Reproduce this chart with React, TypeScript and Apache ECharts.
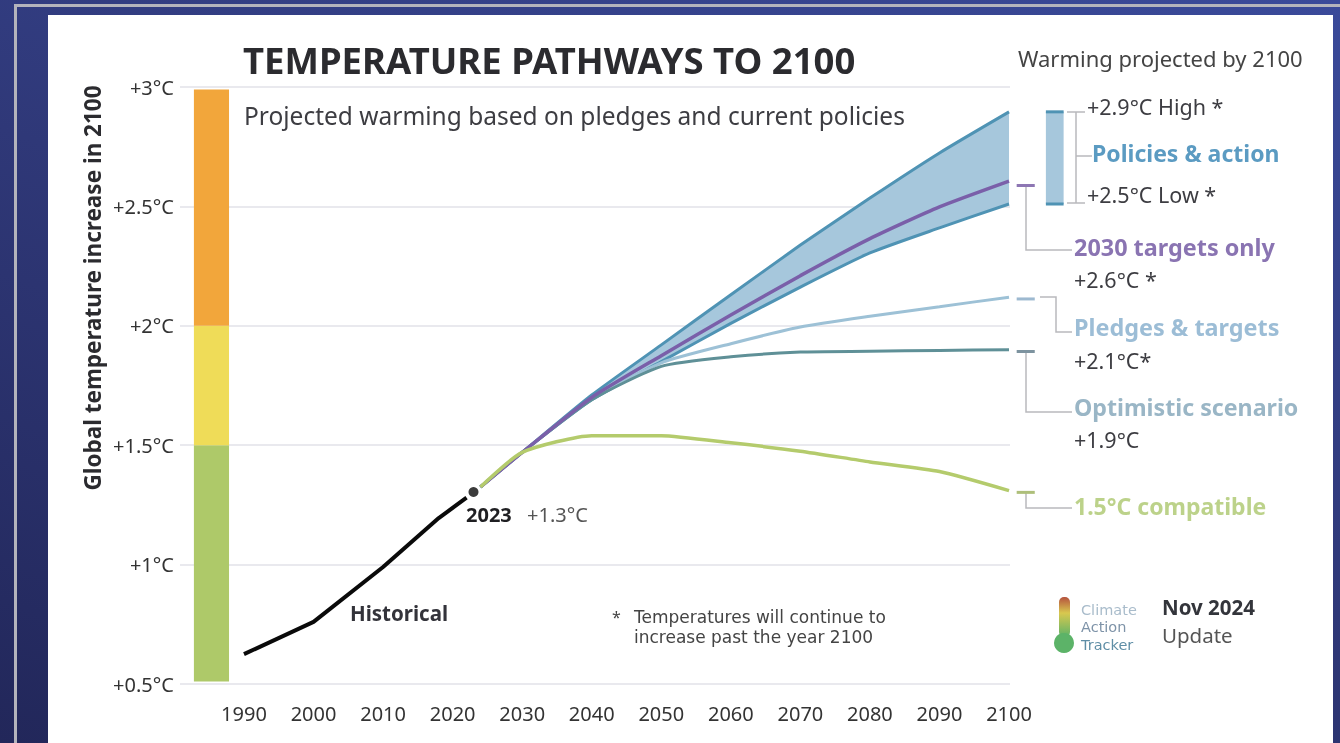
import React, { useEffect, useRef } from "react";
import * as echarts from "echarts";

const years = [1990, 2000, 2010, 2018, 2022];
const historical = [0.625, 0.76, 0.99, 1.195, 1.28];
const marker2023 = [2023, 1.304];
const scenarioYears = [2024, 2030, 2040, 2050, 2060, 2070, 2080, 2090, 2100];
const policiesHigh = [1.325, 1.47, 1.71, 1.92, 2.13, 2.338, 2.535, 2.724, 2.896];
const policiesLow = [1.325, 1.47, 1.69, 1.85, 2.01, 2.162, 2.305, 2.41, 2.51];
const targets2030 = [1.325, 1.47, 1.7, 1.875, 2.045, 2.21, 2.365, 2.498, 2.606];
const pledges = [1.325, 1.47, 1.695, 1.845, 1.925, 1.995, 2.04, 2.08, 2.12];
const optimistic = [1.325, 1.47, 1.69, 1.83, 1.87, 1.89, 1.893, 1.897, 1.9];
const compatible = [1.325, 1.47, 1.54, 1.54, 1.51, 1.475, 1.43, 1.39, 1.31];
const xTicks = [1990, 2000, 2010, 2020, 2030, 2040, 2050, 2060, 2070, 2080, 2090, 2100];
const bandFrom = [0.51, 1.5, 2];
const bandTo = [1.5, 2, 2.99];
const endValues = [2.6, 2.125, 1.905, 1.315];

const FONT = '"Noto Sans", sans-serif';
const ALT = '"DejaVu Sans", sans-serif';
const C = { band: "#a6c7dc", policy: "#4f93b4", purple: "#7a5fa9", pledge: "#9dc1d6", opt: "#5f9097", green: "#b4cb6c", conn: "#b9b9bd" };
const bandColors = ["#aec969", "#efdc58", "#f2a63b"];
const endColors = ["#8d76b3", "#9db9d0", "#7d939f", "#aebf7a"];

const txt = (text: string, x: number, y: number, size: number, fill: string, bold = false, family = FONT) => ({
  type: "text", x, y, silent: true,
  style: { text, fill, font: `${bold ? "bold " : ""}${size}px ${family}`, verticalAlign: "middle", align: "left" },
});
const conn = (points: number[][]) => ({
  type: "polyline", silent: true, shape: { points }, style: { stroke: C.conn, lineWidth: 1.5, fill: "none" },
});
const line = (name: string, xs: number[], ys: number[], color: string, width: number, z = 3) => ({
  name, type: "line", data: xs.map((x, i) => [x, ys[i]]), showSymbol: false, smooth: 0.2, z,
  lineStyle: { color, width }, itemStyle: { color },
});

export default function App() {
  const ref = useRef<HTMLDivElement>(null);
  useEffect(() => {
    const chart = echarts.init(ref.current!, null, { renderer: "svg" });
    chart.setOption({
      animation: false,
      backgroundColor: "transparent",
      grid: { left: 180, top: 87, width: 830, height: 597 },
      xAxis: {
        type: "value", min: 1980.8, max: 2100.14,
        axisLine: { show: false }, axisTick: { show: false }, splitLine: { show: false },
        axisLabel: { customValues: xTicks, formatter: (v: number) => String(v), color: "#333", fontSize: 20, fontFamily: FONT, margin: 19 },
      },
      yAxis: {
        type: "value", min: 0.5, max: 3, interval: 0.5,
        axisLine: { show: false }, axisTick: { show: false },
        splitLine: { lineStyle: { color: "#e2e2e8", width: 1.5 } },
        axisLabel: { formatter: (v: number) => `+${v}°C`, color: "#333", fontSize: 20, fontFamily: FONT, margin: 6 },
      },
      series: [
        {
          type: "custom", name: "Bands", z: 2, data: bandFrom.map((v, i) => [v, bandTo[i], i]),
          renderItem: (_: any, api: any) => {
            const a = api.coord([1982.8, api.value(1)]);
            const b = api.coord([1987.85, api.value(0)]);
            return { type: "rect", shape: { x: a[0], y: a[1], width: b[0] - a[0], height: b[1] - a[1] }, style: { fill: bandColors[api.value(2)] } };
          },
        },
        {
          type: "custom", name: "Policies range", z: 2, data: [[scenarioYears[0], policiesLow[0], policiesHigh[0]]],
          renderItem: (_: any, api: any) => {
            const top = scenarioYears.map((x, i) => api.coord([x, policiesHigh[i]]));
            const bottom = scenarioYears.map((x, i) => api.coord([x, policiesLow[i]])).reverse();
            return { type: "polygon", shape: { points: [...top, ...bottom] }, style: { fill: C.band } };
          },
        },
        line("Policies high", scenarioYears, policiesHigh, C.policy, 3),
        line("Policies low", scenarioYears, policiesLow, C.policy, 3),
        line("Pledges", scenarioYears, pledges, C.pledge, 3),
        line("Optimistic", scenarioYears, optimistic, C.opt, 3),
        line("2030 targets", scenarioYears, targets2030, C.purple, 3.5, 4),
        line("1.5 compatible", scenarioYears, compatible, C.green, 3.5, 5),
        { ...line("Historical", years, historical, "#0a0a0a", 4, 5), smooth: false },
        {
          type: "scatter", name: "2023", data: [marker2023], symbolSize: 10, z: 6, itemStyle: { color: "#0a0a0a" },
        },
        {
          type: "custom", name: "End marks", clip: false, z: 3, data: endValues.map((v, i) => [v, i]),
          renderItem: (_: any, api: any) => {
            const a = api.coord([2101.1, api.value(0)]);
            const b = api.coord([2103.7, api.value(0)]);
            return { type: "line", shape: { x1: a[0], y1: a[1] + 3, x2: b[0], y2: b[1] + 3 }, style: { stroke: endColors[api.value(1)], lineWidth: 3 } };
          },
        },
        {
          type: "custom", name: "Range bar", clip: false, z: 3, data: [[policiesLow[8], policiesHigh[8]]],
          renderItem: (_: any, api: any) => {
            const a = api.coord([2105.3, api.value(1)]);
            const b = api.coord([2107.85, api.value(0)]);
            return {
              type: "group",
              children: [
                { type: "rect", shape: { x: a[0], y: a[1], width: b[0] - a[0], height: b[1] - a[1] }, style: { fill: C.band } },
                { type: "line", shape: { x1: a[0], y1: a[1], x2: b[0], y2: a[1] }, style: { stroke: C.policy, lineWidth: 3 } },
                { type: "line", shape: { x1: a[0], y1: b[1], x2: b[0], y2: b[1] }, style: { stroke: C.policy, lineWidth: 3 } },
              ],
            };
          },
        },
      ],
      graphic: [
        txt("TEMPERATURE PATHWAYS TO 2100", 243, 60, 36.5, "#2b2b2f", true),
        txt("Projected warming based on pledges and current policies", 244, 115, 24.5, "#3d3d42"),
        {
          type: "text", x: 92, y: 288, rotation: Math.PI / 2, silent: true,
          style: { text: "Global temperature increase in 2100", fill: "#2b2b2f", font: `bold 22.5px ${FONT}`, align: "center", verticalAlign: "middle" },
        },
        txt("Historical", 350, 613, 20.5, "#33333a", true),
        txt("2023", 466, 514, 20, "#1f1f22", true),
        txt("+1.3°C", 527, 514, 20, "#555"),
        txt("*", 612, 617, 16, "#444"),
        txt("Temperatures will continue to", 634, 617, 17, "#444", false, ALT),
        txt("increase past the year 2100", 634, 637, 17, "#444", false, ALT),
        txt("Warming projected by 2100", 1018, 58, 22, "#444"),
        txt("+2.9°C High *", 1087, 106, 21.5, "#3d3d42"),
        txt("Policies & action", 1092, 153, 23, "#5b9bc2", true),
        txt("+2.5°C Low *", 1087, 194, 21.5, "#3d3d42"),
        txt("2030 targets only", 1074, 247, 23.4, "#8a74b2", true),
        txt("+2.6°C *", 1074, 279, 21.5, "#3d3d42"),
        txt("Pledges & targets", 1074, 327, 23.4, "#9cbdd6", true),
        txt("+2.1°C*", 1074, 360, 21.5, "#3d3d42"),
        txt("Optimistic scenario", 1074, 407, 23.2, "#9ab6c6", true),
        txt("+1.9°C", 1074, 439, 21.5, "#3d3d42"),
        txt("1.5°C compatible", 1074, 506, 23, "#bcd28a", true),
        txt("Climate", 1081, 610, 14.5, "#a9bccb", false, ALT),
        txt("Action", 1081, 627, 14.5, "#7e93a8", false, ALT),
        txt("Tracker", 1081, 645, 14.5, "#5f8ea6", false, ALT),
        txt("Nov 2024", 1162, 607, 20.5, "#33353b", true),
        txt("Update", 1162, 635, 20.5, "#555"),
        conn([[1067, 112], [1085, 112]]),
        conn([[1067, 203], [1085, 203]]),
        conn([[1076, 112], [1076, 203]]),
        conn([[1076, 156], [1092, 156]]),
        conn([[1026, 186], [1026, 250], [1072, 250]]),
        conn([[1040, 297], [1056, 297], [1056, 332], [1072, 332]]),
        conn([[1026, 352], [1026, 412], [1072, 412]]),
        conn([[1026, 492], [1026, 508], [1072, 508]]),
        { type: "rect", silent: true, shape: { x: 1059, y: 597, width: 11, height: 40, r: 5 }, style: { fill: new echarts.graphic.LinearGradient(0, 0, 0, 1, [{ offset: 0, color: "#b5523e" }, { offset: 0.4, color: "#d8c84f" }, { offset: 1, color: "#5cb368" }]) } },
        { type: "circle", silent: true, shape: { cx: 1064, cy: 643, r: 10 }, style: { fill: "#5cb368" } },
      ],
    });
    return () => chart.dispose();
  }, []);
  return (
    <div style={{ position: "fixed", left: 0, top: 0, width: 1340, height: 743, overflow: "hidden", background: "linear-gradient(200deg,#3a4a9a 0%,#2f3878 50%,#22275a 100%)" }}>
      <div style={{ position: "absolute", left: 14, top: 4, width: 1326, height: 739, borderLeft: "3px solid #b4b4bc", borderTop: "3px solid #b4b4bc", boxSizing: "border-box" }} />
      <div style={{ position: "absolute", left: 48, top: 15, width: 1285, height: 728, background: "#fff" }} />
      <div ref={ref} style={{ position: "absolute", left: 0, top: 0, width: 1340, height: 743, filter: "blur(0.5px)" }} />
    </div>
  );
}
